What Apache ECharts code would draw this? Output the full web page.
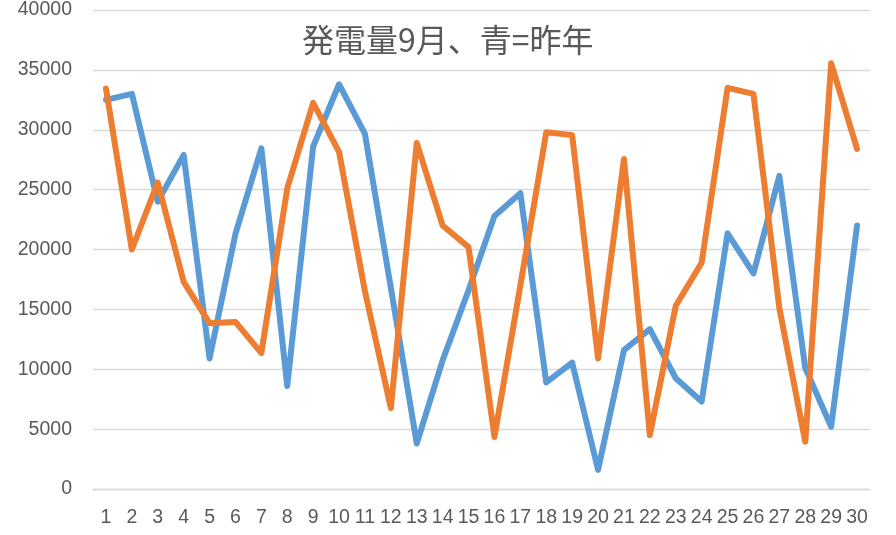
<!DOCTYPE html>
<html>
<head>
<meta charset="utf-8">
<script src="https://cdn.jsdelivr.net/npm/echarts@6/dist/echarts.min.js"></script>
<style>
html,body{margin:0;padding:0;background:#fff;}
#chart{width:896px;height:535px;}
</style>
</head>
<body>
<div id="chart"></div>
<script>
const titleText = '発電量9月、青=昨年';
const days = ['1','2','3','4','5','6','7','8','9','10','11','12','13','14','15','16','17','18','19','20','21','22','23','24','25','26','27','28','29','30'];
const lastYear = [32500, 33000, 24000, 27900, 10900, 21300, 28450, 8600, 28600, 33800, 29650, 16800, 3800, 10750, 16600, 22800, 24700, 8900, 10550, 1600, 11600, 13350, 9250, 7300, 21350, 18000, 26150, 10100, 5200, 22000];
const thisYear = [33450, 20000, 25600, 17300, 13850, 13950, 11350, 25100, 32250, 28150, 16500, 6750, 28900, 22000, 20200, 4350, 17000, 29800, 29550, 10900, 27550, 4500, 15300, 18900, 33500, 33000, 15100, 3950, 35550, 28400];
const yTicks = { min: 0, max: 40000, interval: 5000 };

const chart = echarts.init(document.getElementById('chart'), null, { renderer: 'canvas' });
const labelColor = '#595959';
const gridColor = '#D9D9D9';
chart.setOption({
  animation: false,
  backgroundColor: '#ffffff',
  title: {
    text: titleText,
    left: 297,
    top: 19,
    textStyle: { color: labelColor, fontSize: 32, fontWeight: 'normal', fontFamily: 'Noto Sans CJK JP' }
  },
  grid: { left: 93, right: 26, top: 10, bottom: 46, containLabel: false },
  xAxis: {
    type: 'category',
    data: days,
    boundaryGap: true,
    axisLine: { show: true, lineStyle: { color: gridColor, width: 1.3 } },
    axisTick: { show: false },
    axisLabel: { color: labelColor, fontSize: 19.5, margin: 19, interval: 0, fontFamily: 'Liberation Sans' }
  },
  yAxis: {
    type: 'value',
    min: yTicks.min,
    max: yTicks.max,
    interval: yTicks.interval,
    axisLine: { show: false },
    axisTick: { show: false },
    splitLine: { show: true, lineStyle: { color: gridColor, width: 1.3 } },
    axisLabel: { color: labelColor, fontSize: 19.5, margin: 21, fontFamily: 'Liberation Sans', formatter: function (v) { return String(v); } }
  },
  series: [
    {
      name: '昨年',
      type: 'line',
      data: lastYear,
      symbol: 'none',
      smooth: false,
      lineStyle: { color: '#5B9BD5', width: 6, cap: 'round', join: 'round' },
      itemStyle: { color: '#5B9BD5' }
    },
    {
      name: '今年',
      type: 'line',
      data: thisYear,
      symbol: 'none',
      smooth: false,
      lineStyle: { color: '#ED7D31', width: 6, cap: 'round', join: 'round' },
      itemStyle: { color: '#ED7D31' }
    }
  ]
});
</script>
</body>
</html>
